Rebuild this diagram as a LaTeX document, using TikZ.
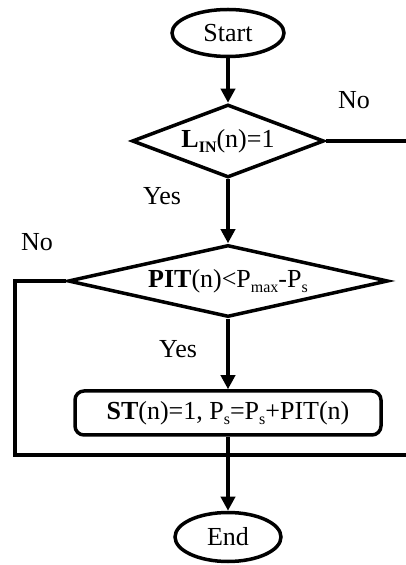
\documentclass[tikz,border=0pt]{standalone}
\usepackage{fontspec}
\setmainfont{Liberation Serif}
\usetikzlibrary{positioning,shapes.geometric,arrows.meta}
\newcommand{\lowsub}[1]{\raisebox{-0.22em}{\fontsize{16}{16}\selectfont #1}}

\begin{document}
\begin{tikzpicture}[x=1pt, y=1pt,
font=\fontsize{26}{30}\selectfont,
line width=3.5pt,
term/.style={ellipse, draw=black, fill=white, line width=3.5pt, minimum width=112pt, minimum height=47pt, inner sep=0pt},
test/.style={diamond, draw=black, fill=white, line width=3.5pt, inner sep=0pt, aspect=4},
box/.style={rectangle, rounded corners=9pt, draw=black, fill=white, line width=3.5pt, minimum width=306pt, minimum height=44pt, align=center},
lbl/.style={inner sep=0pt},
flow/.style={-{Triangle[length=14pt, width=14pt]}}
]
\useasboundingbox (0,0) rectangle (406,565);

\node[term](start) at (228,532) {Start};
\node[test, minimum width=192pt, minimum height=73pt](lin)[below of = start, node distance=108pt]{\textbf{L\lowsub{IN}}(n)=1};
\node[test, minimum width=320pt, minimum height=72pt](pit)[below of = lin, node distance=140pt]{\textbf{PIT}(n)<P\lowsub{max}-P\lowsub{s}};
\node[box](st)[below of = pit, node distance=132pt]{\textbf{ST}(n)=1, P\lowsub{s}=P\lowsub{s}+PIT(n)};
\node[term, minimum width=106pt, minimum height=49pt](stop)[below of = st, node distance=124pt]{End};

% labels
\node[lbl](no_lin) at (354,465) {No};
\node[lbl](yes_lin) at (162,369) {Yes};
\node[lbl](no_pit) at (37,323) {No};
\node[lbl](yes_pit) at (178,216) {Yes};

% free ends of the No branches
\coordinate (lin_out) at (406,424);
\coordinate (pit_corner) at (15,110);
\coordinate (pit_out) at (406,110);

\draw[flow] (start) -- (lin);
\draw[flow] (lin) -- (pit);
\draw[flow] (pit) -- (st);
\draw[flow] (st) -- (stop);

\draw (lin.east) -- (lin_out);
\draw (pit.west) -| (pit_corner) -- (pit_out);

\end{tikzpicture}
\end{document}
